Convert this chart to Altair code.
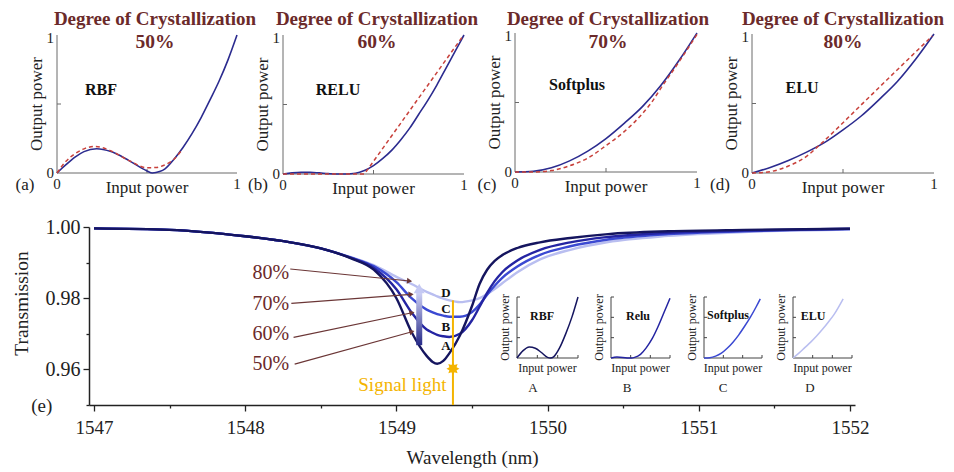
import math
import numpy as np
import pandas as pd
import altair as alt

FONT = "Liberation Serif"
MAROON = "#6b2a2a"
BROWN = "#6b3636"
ORANGE = "#f4b400"
BLUE = "#2b2b8f"
RED = "#c8413b"
AXC = "#6a6a6a"
INK = "#222222"

# ---------------- (a)-(d): activation functions ----------------
crystallization = [50, 60, 70, 80]
func_names = ["RBF", "RELU", "Softplus", "ELU"]
panel_letters = ["(a)", "(b)", "(c)", "(d)"]

dev_x = [
    [0, 0.05, 0.1, 0.15, 0.22, 0.3, 0.4, 0.5, 0.53, 0.57, 0.6, 0.65, 0.7, 0.75, 0.8, 0.85, 0.9, 0.95, 1.0],
    [0, 0.05, 0.1, 0.15, 0.2, 0.25, 0.3, 0.35, 0.4, 0.45, 0.5, 0.55, 0.6, 0.65, 0.7, 0.75, 0.8, 0.85, 0.9, 0.95, 1.0],
    [0, 0.1, 0.2, 0.3, 0.4, 0.5, 0.6, 0.7, 0.8, 0.9, 1.0],
    [0, 0.1, 0.2, 0.3, 0.4, 0.5, 0.6, 0.7, 0.8, 0.9, 1.0],
]
dev_y = [
    [0, 0.06, 0.115, 0.155, 0.176, 0.155, 0.09, 0.015, 0.0, 0.01, 0.03, 0.10, 0.185, 0.285, 0.40, 0.53, 0.665, 0.82, 1.0],
    [0, 0.008, 0.012, 0.012, 0.008, 0.003, 0.0, 0.0, 0.005, 0.025, 0.06, 0.11, 0.17, 0.245, 0.33, 0.43, 0.53, 0.64, 0.76, 0.88, 1.0],
    [0, 0.005, 0.03, 0.08, 0.15, 0.24, 0.35, 0.47, 0.62, 0.8, 1.0],
    [0, 0.04, 0.09, 0.15, 0.22, 0.31, 0.41, 0.53, 0.66, 0.82, 1.0],
]
tgt_x = [
    [0, 0.05, 0.1, 0.15, 0.21, 0.3, 0.4, 0.5, 0.55, 0.6, 0.65, 0.69],
    [0, 0.45, 0.99],
    [0, 0.1, 0.2, 0.3, 0.4, 0.5, 0.6, 0.7, 0.75, 0.8, 0.9, 1.0],
    [0, 0.1, 0.2, 0.3, 0.37, 0.6, 0.8, 0.99],
]
tgt_y = [
    [0, 0.085, 0.14, 0.175, 0.193, 0.16, 0.09, 0.038, 0.04, 0.06, 0.10, 0.16],
    [0, 0, 0.985],
    [0, 0.0, 0.01, 0.045, 0.1, 0.19, 0.29, 0.42, 0.5, 0.6, 0.79, 0.99],
    [0, 0.01, 0.05, 0.12, 0.2, 0.49, 0.745, 0.985],
]
tgt_interp = ["monotone", "linear", "monotone", "monotone"]

# ---------------- insets A-D ----------------
ins_names = ["RBF", "Relu", "Softplus", "ELU"]
ins_letters = ["A", "B", "C", "D"]
ins_x = [
    [0, 0.1, 0.2, 0.3, 0.4, 0.5, 0.55, 0.6, 0.7, 0.8, 0.9, 1.0],
    [0, 0.1, 0.2, 0.3, 0.35, 0.4, 0.5, 0.6, 0.7, 0.8, 0.9, 1.0],
    [0, 0.1, 0.2, 0.3, 0.4, 0.5, 0.6, 0.7, 0.8, 0.9, 0.97],
    [0, 0.1, 0.2, 0.3, 0.4, 0.5, 0.6, 0.7, 0.85],
]
ins_y = [
    [0, 0.12, 0.18, 0.16, 0.09, 0.01, 0.0, 0.02, 0.17, 0.40, 0.67, 1.0],
    [0, 0.015, 0.01, 0.0, 0.0, 0.01, 0.06, 0.17, 0.32, 0.52, 0.75, 0.98],
    [0, 0.005, 0.03, 0.08, 0.16, 0.26, 0.38, 0.52, 0.67, 0.84, 0.97],
    [0, 0.08, 0.17, 0.26, 0.36, 0.47, 0.59, 0.72, 0.97],
]

# ---------------- (e): transmission spectra ----------------
wavelength = [1547.0, 1547.5, 1548.0, 1548.3, 1548.5, 1548.7, 1548.85, 1549.0, 1549.1, 1549.2,
              1549.24, 1549.27, 1549.31, 1549.35, 1549.42, 1549.5, 1549.55, 1549.6, 1549.65,
              1549.7, 1549.8, 1549.95, 1550.15, 1550.4, 1550.8, 1551.3, 1552.0]
t_50 = [0.9996, 0.9992, 0.9974, 0.9957, 0.9940, 0.9912, 0.9880, 0.9800, 0.9705, 0.9638,
        0.9621, 0.9616, 0.9624, 0.9645, 0.9695, 0.9778, 0.9840, 0.9880, 0.9905,
        0.9921, 0.9941, 0.9957, 0.9969, 0.9980, 0.9988, 0.9992, 0.9995]
t_60 = [0.9996, 0.9992, 0.9974, 0.9957, 0.9940, 0.9913, 0.9885, 0.9825, 0.9760, 0.9712,
        0.9703, 0.9697, 0.9693, 0.9691, 0.9700, 0.9738, 0.9776, 0.9815, 0.9848,
        0.9873, 0.9906, 0.9936, 0.9957, 0.9972, 0.9984, 0.9990, 0.9995]
t_70 = [0.9996, 0.9992, 0.9974, 0.9957, 0.9940, 0.9914, 0.9890, 0.9845, 0.9800, 0.9768,
        0.9760, 0.9755, 0.9751, 0.9748, 0.9748, 0.9761, 0.9782, 0.9810, 0.9835,
        0.9857, 0.9889, 0.9922, 0.9946, 0.9965, 0.9980, 0.9988, 0.9994]
t_80 = [0.9996, 0.9992, 0.9974, 0.9957, 0.9940, 0.9915, 0.9893, 0.9860, 0.9840, 0.9818,
        0.9811, 0.9805, 0.9799, 0.9794, 0.9789, 0.9794, 0.9800, 0.9812, 0.9826,
        0.9842, 0.9873, 0.9909, 0.9936, 0.9958, 0.9975, 0.9986, 0.9993]
spectra = [t_50, t_60, t_70, t_80]
curve_colors = ["#15155f", "#2424a2", "#3b49d2", "#b9bef0"]
curve_letters = ["A", "B", "C", "D"]

pct_labels = ["80%", "70%", "60%", "50%"]
pct_t = [0.98716, 0.97836, 0.96993, 0.96150]
arrow_start_wl = [1548.298, 1548.305, 1548.320, 1548.327]
arrow_start_t = [0.98820, 0.97856, 0.96901, 0.96150]
arrow_end_wl = [1549.087, 1549.097, 1549.103, 1549.103]
arrow_end_t = [0.98483, 0.98109, 0.97592, 0.97058]
letter_t = [0.96656, 0.97190, 0.97687, 0.98145]
signal_wl = 1549.374
signal_top = 0.9794
sun_t = 0.9602
grad_arrow_wl = 1549.151
grad_arrow_t = [0.9668, 0.9815]

# ---------------- layout (page pixels) ----------------
OX, OY = 89, 227           # origin of the (e) plot area on the page
W, H = 766, 178
TOTAL_W, TOTAL_H = 938, 463
PANELS = [(57, 237, 173, 35), (283, 464, 174, 35), (515, 697, 172, 33), (752, 934, 173, 34)]
TITLE_CX = [155, 377, 608, 843]
FN_POS = [(101, 90), (338, 90), (577, 85), (802, 88)]
LET_POS = [(25, 185), (258, 185), (487, 185), (720, 185)]
INSETS = [(517, 578, 358, 297), (611, 670, 358, 297), (704, 762, 358, 297), (793, 852, 358, 297)]
INS_FN_POS = [(542, 316), (638, 316), (728, 315), (813, 316)]
INS_LET_POS = [(533, 388), (627, 388), (723, 388), (810, 388)]


def pscale(x0, x1, yb, yt):
    return (alt.Scale(domain=[0, 1], range=[x0 - OX, x1 - OX], nice=False, zero=False),
            alt.Scale(domain=[0, 1], range=[yb - OY, yt - OY], nice=False, zero=False))


def XY(xs, ys):
    return dict(x=alt.X("x:Q", scale=xs, axis=None), y=alt.Y("y:Q", scale=ys, axis=None))


def curve(xs, ys, xv, yv, color, sw, dash=None, interp="monotone"):
    props = dict(color=color, strokeWidth=sw, interpolate=interp)
    if dash is not None:
        props["strokeDash"] = dash
    return alt.Chart(pd.DataFrame({"x": xv, "y": yv})).mark_line(**props).encode(**XY(xs, ys))


def frame(xs, ys, ticks, tx, ty, color, sw):
    rows = [dict(x=0, y=0, x2=1, y2=0), dict(x=0, y=0, x2=0, y2=1)]
    for t in ticks:
        rows.append(dict(x=t, y=0, x2=t, y2=ty))
        rows.append(dict(x=0, y=t, x2=tx, y2=t))
    return alt.Chart(pd.DataFrame(rows)).mark_rule(color=color, strokeWidth=sw).encode(
        **XY(xs, ys), x2="x2:Q", y2="y2:Q")


def label(xs, ys, xv, yv, texts, **props):
    props.setdefault("font", FONT)
    props.setdefault("color", INK)
    props.setdefault("baseline", "middle")
    props.setdefault("align", "center")
    df = pd.DataFrame({"x": xv, "y": yv, "t": texts})
    return alt.Chart(df).mark_text(**props).encode(**XY(xs, ys), text="t:N")


def top_panel(i):
    x0, x1, yb, yt = PANELS[i]
    xs, ys = pscale(x0, x1, yb, yt)
    pw, ph = x1 - x0, yb - yt
    px = lambda X: (X - x0) / pw
    py = lambda Y: (yb - Y) / ph
    return alt.layer(
        frame(xs, ys, [0.5], 4 / pw, 4 / ph, AXC, 1),
        curve(xs, ys, dev_x[i], dev_y[i], BLUE, 1.6),
        curve(xs, ys, tgt_x[i], tgt_y[i], RED, 1.5, dash=[4, 3], interp=tgt_interp[i]),
        label(xs, ys, [0], [0], ["0"], align="right", dx=-3, fontSize=15),
        label(xs, ys, [0], [1], ["1"], align="right", dx=-3, dy=2.5, fontSize=15),
        label(xs, ys, [0, 1], [0, 0], ["0", "1"], dy=11, fontSize=15),
        label(xs, ys, [0.5], [0], ["Input power"], dy=15, fontSize=17),
        label(xs, ys, [-20 / pw], [0.5], ["Output power"], angle=270, fontSize=17),
        label(xs, ys, [px(TITLE_CX[i])], [py(25)], ["Degree of Crystallization"],
              fontSize=19, fontWeight="bold", color=MAROON, baseline="alphabetic"),
        label(xs, ys, [px(TITLE_CX[i])], [py(42)], [f"{crystallization[i]}%"],
              fontSize=19.5, fontWeight="bold", color=MAROON),
        label(xs, ys, [px(FN_POS[i][0])], [py(FN_POS[i][1])], [func_names[i]],
              fontSize=16, fontWeight="bold", color="#111111"),
        label(xs, ys, [px(LET_POS[i][0])], [py(LET_POS[i][1])], [panel_letters[i]], fontSize=17),
    )


def inset(i):
    x0, x1, yb, yt = INSETS[i]
    xs, ys = pscale(x0, x1, yb, yt)
    pw, ph = x1 - x0, yb - yt
    px = lambda X: (X - x0) / pw
    py = lambda Y: (yb - Y) / ph
    return alt.layer(
        frame(xs, ys, [1 / 3, 2 / 3, 1], 3 / pw, 3 / ph, "#444444", 1),
        curve(xs, ys, ins_x[i], ins_y[i], curve_colors[i], 1.5),
        label(xs, ys, [0.5], [0], ["Input power"], dy=10, fontSize=12),
        label(xs, ys, [-12 / pw], [0.5], ["Output power"], angle=270, fontSize=12),
        label(xs, ys, [px(INS_FN_POS[i][0])], [py(INS_FN_POS[i][1])], [ins_names[i]],
              fontSize=12, fontWeight="bold", color="#111111"),
        label(xs, ys, [px(INS_LET_POS[i][0])], [py(INS_LET_POS[i][1])], [ins_letters[i]], fontSize=13),
    )


# ---------------- main plot (e) ----------------
MX = alt.Scale(domain=[1547, 1552], nice=False, zero=False)
MY = alt.Scale(domain=[0.95, 1.0], nice=False, zero=False)
XAXIS = alt.Axis(
    values=[1547 + 0.5 * k for k in range(11)],
    labelExpr="datum.value % 1 === 0 ? format(datum.value, 'd') : ''",
    title="Wavelength (nm)", titleFont=FONT, titleFontSize=19, titleFontWeight="normal",
    titleColor=INK, titleX=W / 2, titleY=52, titleBaseline="middle", titleAlign="center",
    labelFont=FONT, labelFontSize=19, labelColor=INK, labelPadding=7, labelOverlap=False,
    labelFlush=False,
    tickSize={"condition": {"test": "datum.value % 1 === 0", "value": 6}, "value": 3},
    tickColor=INK, tickWidth=1.3, domainColor=INK, domainWidth=1.5, grid=False)
YAXIS = alt.Axis(
    values=[0.95, 0.96, 0.97, 0.98, 0.99, 1.0],
    labelExpr="round(datum.value * 100) % 2 === 0 ? format(datum.value, '.2f') : ''",
    title="Transmission", titleFont=FONT, titleFontSize=19.5, titleFontWeight="normal",
    titleColor=INK, titleX=-68, titleY=76, titleAngle=270, titleBaseline="middle",
    titleAlign="center",
    labelFont=FONT, labelFontSize=20, labelColor=INK, labelPadding=3, labelOverlap=False,
    labelFlush=False,
    tickSize={"condition": {"test": "round(datum.value * 100) % 2 === 0", "value": 6}, "value": 3},
    tickColor=INK, tickWidth=1.3, domainColor=INK, domainWidth=1.5, grid=False)


def M(xf="wl", yf="t"):
    return dict(x=alt.X(f"{xf}:Q", scale=MX, axis=XAXIS), y=alt.Y(f"{yf}:Q", scale=MY, axis=YAXIS))


def mtext(wlv, tv, texts, **props):
    props.setdefault("font", FONT)
    props.setdefault("baseline", "middle")
    props.setdefault("align", "center")
    df = pd.DataFrame({"wl": wlv, "t": tv, "s": texts})
    return alt.Chart(df).mark_text(**props).encode(**M(), text="s:N")


main_layers = []
for k in [3, 2, 1, 0]:
    df = pd.DataFrame({"wl": wavelength, "t": spectra[k]})
    main_layers.append(alt.Chart(df).mark_line(
        color=curve_colors[k], strokeWidth=2.4, interpolate="monotone").encode(**M()))

# gradient arrow (increasing crystallization)
grad = alt.LinearGradient(gradient="linear",
                          stops=[alt.GradientStop(color="#262a88", offset=0),
                                 alt.GradientStop(color="#cdd0f5", offset=1)],
                          x1=0, x2=0, y1=1, y2=0)
main_layers.append(alt.Chart(pd.DataFrame({"wl": [grad_arrow_wl], "t": [grad_arrow_t[0]],
                                           "t2": [grad_arrow_t[1]]}))
                   .mark_bar(size=6, orient="vertical", fill=grad)
                   .encode(**M(), y2="t2:Q"))
main_layers.append(alt.Chart(pd.DataFrame({"wl": [grad_arrow_wl], "t": [grad_arrow_t[1] + 0.0012]}))
                   .mark_point(shape="triangle-up", filled=True, size=120, color="#c5c9f3", opacity=1)
                   .encode(**M()))

# brown annotation arrows
arr = pd.DataFrame({"wl": arrow_start_wl, "t": arrow_start_t, "wl2": arrow_end_wl, "t2": arrow_end_t})
main_layers.append(alt.Chart(arr).mark_rule(color=BROWN, strokeWidth=1.2).encode(
    **M(), x2="wl2:Q", y2="t2:Q"))
PX_NM, PX_T = W / 5.0, H / 0.05
ang = [math.degrees(math.atan2(-(et - st) * PX_T, (ex - sx) * PX_NM)) % 360
       for sx, st, ex, et in zip(arrow_start_wl, arrow_start_t, arrow_end_wl, arrow_end_t)]
heads = pd.DataFrame({"wl": arrow_end_wl, "t": arrow_end_t, "ang": ang})
main_layers.append(alt.Chart(heads).mark_point(shape="triangle-right", filled=True, size=35,
                                               color=BROWN, opacity=1)
                   .encode(**M(), angle=alt.Angle("ang:Q", scale=None)))
main_layers.append(mtext([1548.29] * 4, pct_t, pct_labels, align="right", fontSize=20, color=MAROON))

# signal light
main_layers.append(alt.Chart(pd.DataFrame({"wl": [signal_wl], "t": [0.95], "t2": [signal_top]}))
                   .mark_rule(color=ORANGE, strokeWidth=2).encode(**M(), y2="t2:Q"))
angles = np.arange(16) * np.pi / 8
radii = np.where(np.arange(16) % 2 == 0, 1.0, 0.6)
sun_path = "M" + " L".join(f"{r * np.sin(a):.3f},{-r * np.cos(a):.3f}" for a, r in zip(angles, radii)) + " Z"
main_layers.append(alt.Chart(pd.DataFrame({"wl": [signal_wl], "t": [sun_t]}))
                   .mark_point(shape=sun_path, filled=True, size=170, color=ORANGE, opacity=1)
                   .encode(**M()))
main_layers.append(mtext([1549.331], [0.9556], ["Signal light"], align="right", fontSize=19, color=ORANGE))
main_layers.append(mtext([1549.327] * 4, letter_t, curve_letters, fontSize=13, fontWeight="bold",
                         color="#111111"))
main_layers.append(mtext([1546.654], [0.9497], ["(e)"], fontSize=19, color=INK))

main = alt.layer(*main_layers)

chart = alt.layer(main, *[top_panel(i) for i in range(4)], *[inset(i) for i in range(4)]).resolve_scale(
    x="independent", y="independent"
).properties(
    width=W, height=H,
    padding={"left": OX - 8, "top": OY - 8, "right": TOTAL_W - (OX - 8) - W,
             "bottom": TOTAL_H - (OY - 8) - H},
    autosize=alt.AutoSizeParams(type="none"),
    background="white",
).configure_view(stroke=None)

chart.save("out.html", embed_options={"renderer": "svg", "actions": False})
